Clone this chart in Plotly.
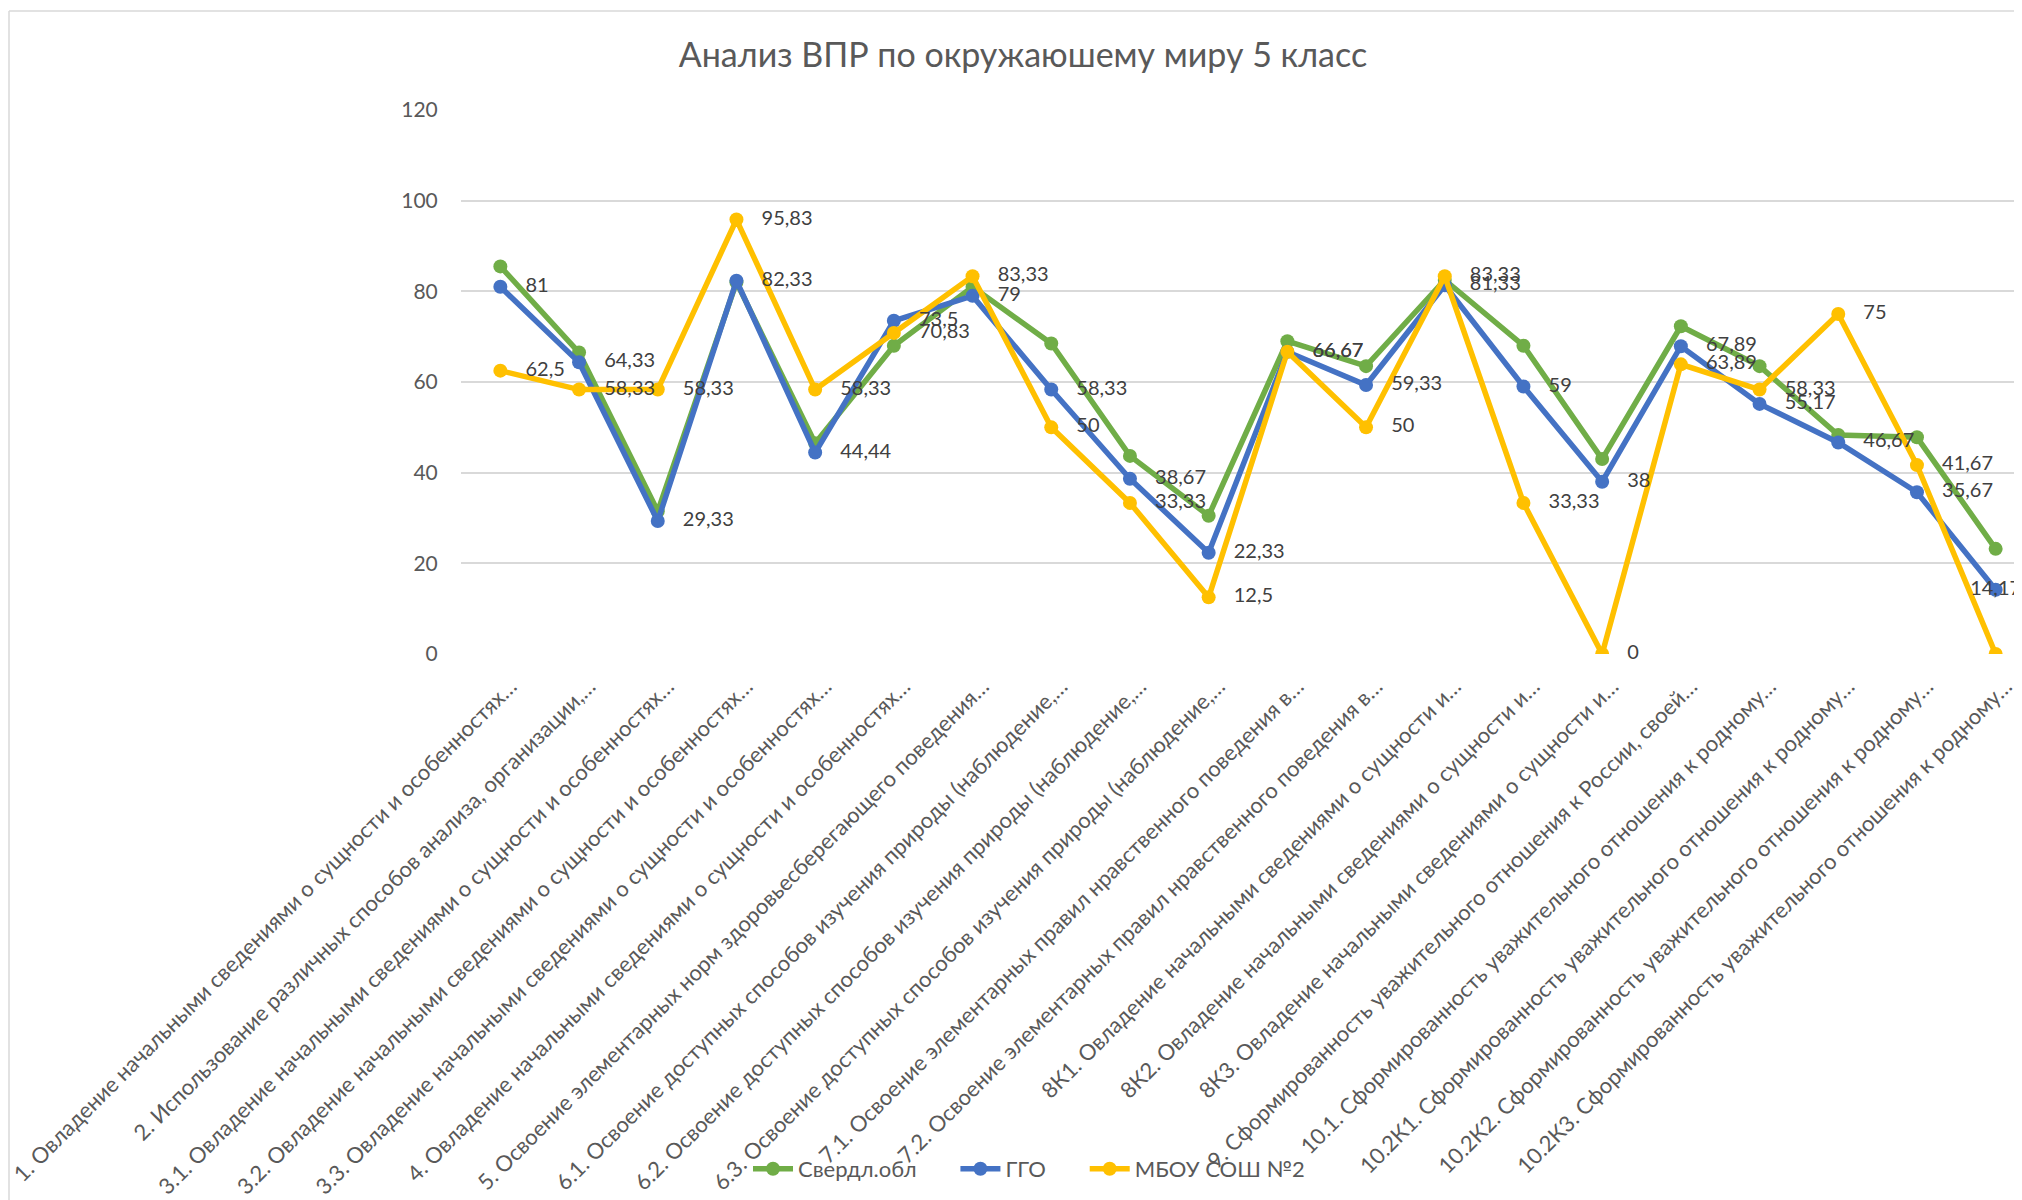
import plotly.graph_objects as go

categories = [
    "1. Овладение начальными сведениями о сущности и особенностях…",
    "2. Использование различных способов анализа, организации,…",
    "3.1. Овладение начальными сведениями о сущности и особенностях…",
    "3.2. Овладение начальными сведениями о сущности и особенностях…",
    "3.3. Овладение начальными сведениями о сущности и особенностях…",
    "4. Овладение начальными сведениями о сущности и особенностях…",
    "5. Освоение элементарных норм здоровьесберегающего поведения…",
    "6.1. Освоение доступных способов изучения природы (наблюдение,…",
    "6.2. Освоение доступных способов изучения природы (наблюдение,…",
    "6.3. Освоение доступных способов изучения природы (наблюдение,…",
    "7.1. Освоение элементарных правил нравственного поведения в…",
    "7.2. Освоение элементарных правил нравственного поведения в…",
    "8К1. Овладение начальными сведениями о сущности и…",
    "8К2. Овладение начальными сведениями о сущности и…",
    "8К3. Овладение начальными сведениями о сущности и…",
    "9. Сформированность уважительного отношения к России, своей…",
    "10.1. Сформированность уважительного отношения к родному…",
    "10.2К1. Сформированность уважительного отношения к родному…",
    "10.2К2. Сформированность уважительного отношения к родному…",
    "10.2К3. Сформированность уважительного отношения к родному…",
]

sverdl = [85.5, 66.5, 31.5, 82, 46.5, 68, 81, 68.5, 43.7, 30.5,
          69, 63.5, 82.5, 68, 43, 72.3, 63.5, 48.3, 47.8, 23.2]
ggo = [81, 64.33, 29.33, 82.33, 44.44, 73.5, 79, 58.33, 38.67, 22.33,
       66.67, 59.33, 81.33, 59, 38, 67.89, 55.17, 46.67, 35.67, 14.17]
school = [62.5, 58.33, 58.33, 95.83, 58.33, 70.83, 83.33, 50, 33.33, 12.5,
          66.67, 50, 83.33, 33.33, 0, 63.89, 58.33, 75, 41.67, 0]

names = ["Свердл.обл", "ГГО", "МБОУ СОШ №2"]
colors = ["#70AD47", "#4472C4", "#FFC000"]

FONT = "Lato"
# the page body has an 8px margin, so the figure is a bit smaller than the window
W, H = 2014, 1192
ML, MT = 453, 102
PLOT_H = 544
MB = H - MT - PLOT_H
PAD = "\u00a0" * 6  # extra room after each legend entry
LEAD = "\u00a0" * 3  # gap between marker and its data label


def fmt(v):
    return f"{v:g}".replace(".", ",")


fig = go.Figure()
for name, vals, col in zip(names, [sverdl, ggo, school], colors):
    fig.add_trace(go.Scatter(x=categories, y=vals, name=name + (PAD if col != colors[2] else ""),
                             mode="lines+markers",
                             line=dict(color=col, width=5.5),
                             marker=dict(size=14, color=col)))

# data labels go on top of all the lines (invisible markers keep the text offset)
ggo_text = [LEAD + fmt(v) for v in ggo]
ggo_pos = ["middle right"] * len(ggo)
ggo_text[-1] = fmt(ggo[-1])
ggo_pos[-1] = "middle center"
ghost = dict(size=14, color="rgba(0,0,0,0)")
fig.add_trace(go.Scatter(x=categories, y=ggo, mode="markers+text", showlegend=False,
                         marker=ghost, text=ggo_text, textposition=ggo_pos,
                         textfont=dict(family=FONT, size=20, color="#404040"),
                         cliponaxis=False, hoverinfo="skip"))
fig.add_trace(go.Scatter(x=categories, y=school, mode="markers+text", showlegend=False,
                         marker=ghost, text=[LEAD + fmt(v) for v in school],
                         textposition="middle right",
                         textfont=dict(family=FONT, size=20, color="#404040"),
                         cliponaxis=False, hoverinfo="skip"))

plot_w = W - ML
spacing = 78.7
x_right = 19 + (plot_w - 0.5 * spacing - 19 * spacing) / spacing

# chart border (left and top edges visible)
bx = (1 - ML) / plot_w
by = 1 + (MT - 3) / PLOT_H
fig.add_shape(type="line", xref="paper", yref="paper", x0=bx, x1=bx, y0=by, y1=-2,
              line=dict(color="#D9D9D9", width=1.5))
fig.add_shape(type="line", xref="paper", yref="paper", x0=bx, x1=1.2, y0=by, y1=by,
              line=dict(color="#D9D9D9", width=1.5))

fig.update_layout(
    width=W, height=H,
    margin=dict(l=ML, r=0, t=MT, b=MB),
    paper_bgcolor="white", plot_bgcolor="white",
    font=dict(family=FONT, color="#595959", size=20),
    title=dict(text="Анализ ВПР по окружаюшему миру 5 класс", x=1015 / W, xanchor="center",
               y=1 - 47 / H, yanchor="middle",
               font=dict(family=FONT, size=34, color="#595959")),
    legend=dict(orientation="h", x=(1021 - ML) / plot_w, xanchor="center",
                y=(MT + PLOT_H - 1161) / PLOT_H, yanchor="middle",
                bgcolor="rgba(255,255,255,0)", font=dict(size=22, color="#595959"),
                itemwidth=40, tracegroupgap=0),
    showlegend=True,
)
fig.update_xaxes(range=[-0.5, x_right], tickangle=-45, showgrid=False, showline=False,
                 zeroline=False, ticks="outside", ticklen=10, tickcolor="rgba(0,0,0,0)",
                 tickfont=dict(size=22, color="#595959"), tickmode="linear", dtick=1,
                 ticklabelshift=10, automargin=False)
fig.update_yaxes(range=[0, 120], dtick=20, showgrid=True, gridcolor="#D9D9D9", gridwidth=1.5,
                 zeroline=False, showline=False, ticks="outside", ticklen=18,
                 tickcolor="rgba(0,0,0,0)", tickfont=dict(size=21, color="#595959"),
                 automargin=False)

fig.write_html("out.html")
